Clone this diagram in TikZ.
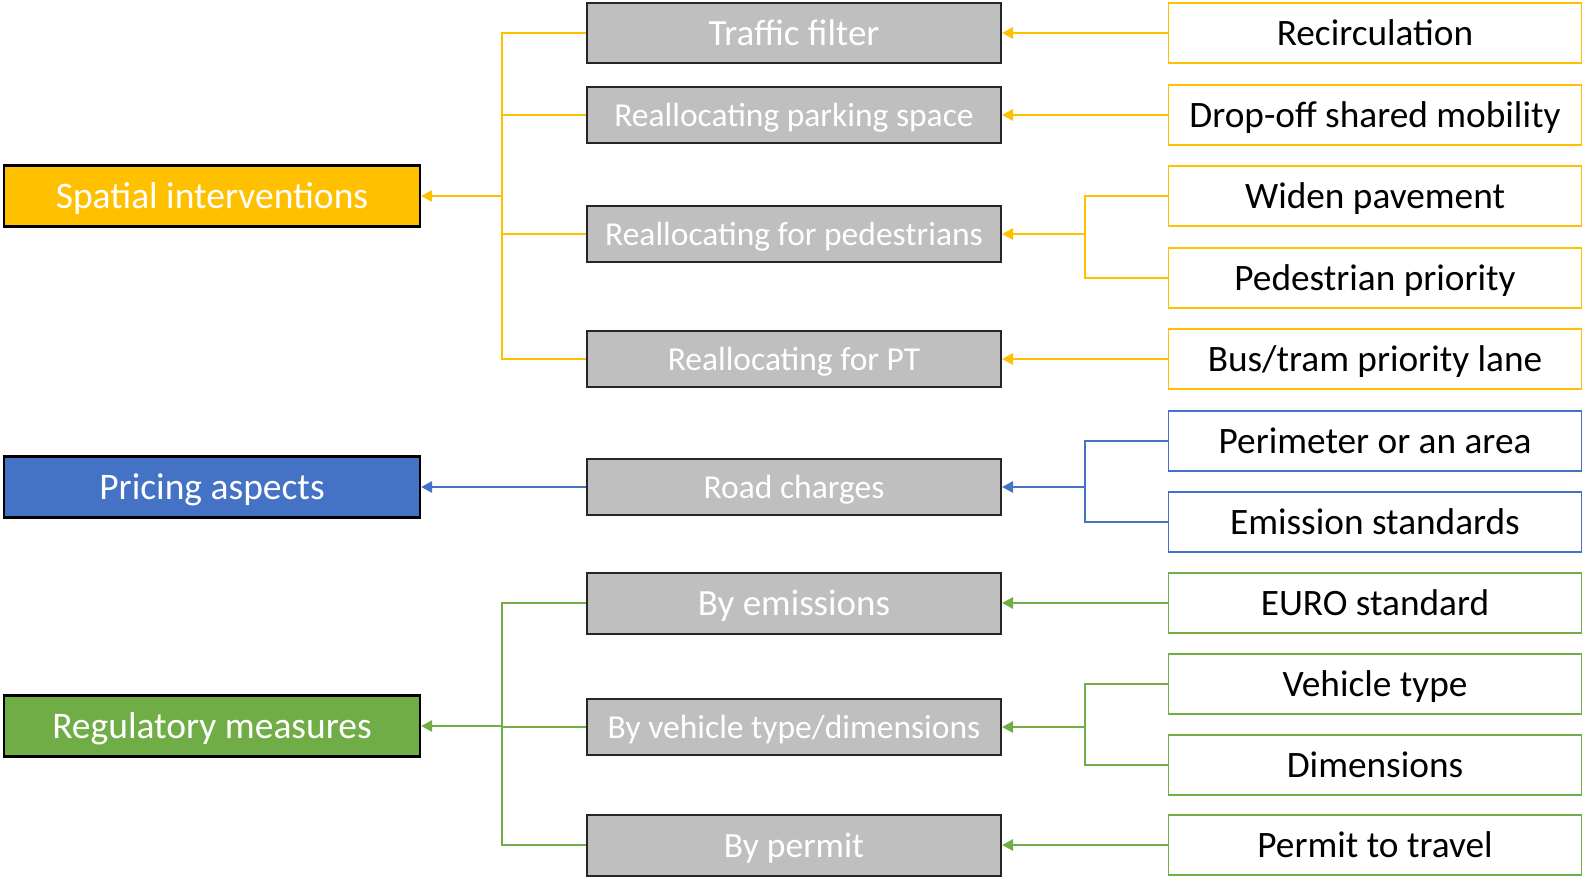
\documentclass[tikz,border=0pt]{standalone}
\usepackage{fontspec}
\setmainfont{Carlito}
\usetikzlibrary{arrows.meta}
\definecolor{yl}{HTML}{FFC000}
\definecolor{bl}{HTML}{4472C4}
\definecolor{gn}{HTML}{70AD47}
\definecolor{gr}{HTML}{BFBFBF}
\begin{document}
\begin{tikzpicture}[x=1pt,y=-1pt,
 cat/.style={draw=black,line width=2.2pt,minimum width=416pt,minimum height=61pt,inner sep=0pt,text=white,font=\fontsize{37.5}{42}\selectfont,text height=27pt,text depth=2pt},
 mid/.style={draw=black!85,line width=2pt,fill=gr,minimum width=414pt,minimum height=56pt,inner sep=0pt,text=white,font=\fontsize{33.5}{38}\selectfont,text height=25pt,text depth=2pt},
 big/.style={font=\fontsize{37}{42}\selectfont,text height=26.5pt,text depth=2pt},
 leaf/.style={draw=#1,line width=1.5pt,fill=white,minimum width=413pt,minimum height=60pt,inner sep=0pt,text=black,font=\fontsize{37.3}{42}\selectfont,text height=27pt,text depth=2pt},
 con/.style={draw=#1,line width=2.8pt},
 arr/.style={draw=#1,line width=2.8pt,-{Triangle[length=11pt,width=11pt]}}
]
\useasboundingbox (0,0) rectangle (1593,880);
% categories
\node[cat,fill=yl] (sp) at (212,196) {Spatial interventions};
\node[cat,fill=bl] (pr) at (212,487) {Pricing aspects};
\node[cat,fill=gn] (rg) at (212,726) {Regulatory measures};
% middle
\node[mid,big,minimum height=60pt] (tf) at (794,33) {Traffic filter};
\node[mid] (pk) at (794,115) {Reallocating parking space};
\node[mid] (pd) at (794,234) {Reallocating for pedestrians};
\node[mid] (pt) at (794,359) {Reallocating for PT};
\node[mid] (rc) at (794,487) {Road charges};
\node[mid,big,minimum height=61pt] (em) at (794,603) {By emissions};
\node[mid] (vt) at (794,727) {By vehicle type/dimensions};
\node[mid,big,minimum height=61pt,font=\fontsize{35.5}{40}\selectfont] (pm) at (794,845) {By permit};
% leaves
\node[leaf=yl] (r1) at (1375,33) {Recirculation};
\node[leaf=yl] (r2) at (1375,115) {Drop-off shared mobility};
\node[leaf=yl] (r3) at (1375,196) {Widen pavement};
\node[leaf=yl] (r4) at (1375,278) {Pedestrian priority};
\node[leaf=yl] (r5) at (1375,359) {Bus/tram priority lane};
\node[leaf=bl] (r6) at (1375,441) {Perimeter or an area};
\node[leaf=bl] (r7) at (1375,522) {Emission standards};
\node[leaf=gn] (r8) at (1375,603) {EURO standard};
\node[leaf=gn] (r9) at (1375,684) {Vehicle type};
\node[leaf=gn] (r10) at (1375,765) {Dimensions};
\node[leaf=gn] (r11) at (1375,845) {Permit to travel};
% junctions
\coordinate (b1) at (502,196);
\coordinate (b3) at (502,726);
\coordinate (c1) at (1085,234);
\coordinate (c2) at (1085,487);
\coordinate (c3) at (1085,727);
% spatial
\draw[con=yl] (tf.west) -| (b1);
\draw[con=yl] (pk.west) -| (b1);
\draw[con=yl] (pd.west) -| (b1);
\draw[con=yl] (pt.west) -| (b1);
\draw[arr=yl] (b1) -- (sp.east);
\draw[arr=yl] (r1.west) -- (tf.east);
\draw[arr=yl] (r2.west) -- (pk.east);
\draw[con=yl] (r3.west) -| (c1);
\draw[con=yl] (r4.west) -| (c1);
\draw[arr=yl] (c1) -- (pd.east);
\draw[arr=yl] (r5.west) -- (pt.east);
% pricing
\draw[arr=bl] (rc.west) -- (pr.east);
\draw[con=bl] (r6.west) -| (c2);
\draw[con=bl] (r7.west) -| (c2);
\draw[arr=bl] (c2) -- (rc.east);
% regulatory
\draw[con=gn] (em.west) -| (b3);
\draw[con=gn] (vt.west) -| (b3);
\draw[con=gn] (pm.west) -| (b3);
\draw[arr=gn] (b3) -- (rg.east);
\draw[arr=gn] (r8.west) -- (em.east);
\draw[con=gn] (r9.west) -| (c3);
\draw[con=gn] (r10.west) -| (c3);
\draw[arr=gn] (c3) -- (vt.east);
\draw[arr=gn] (r11.west) -- (pm.east);
\end{tikzpicture}
\end{document}
